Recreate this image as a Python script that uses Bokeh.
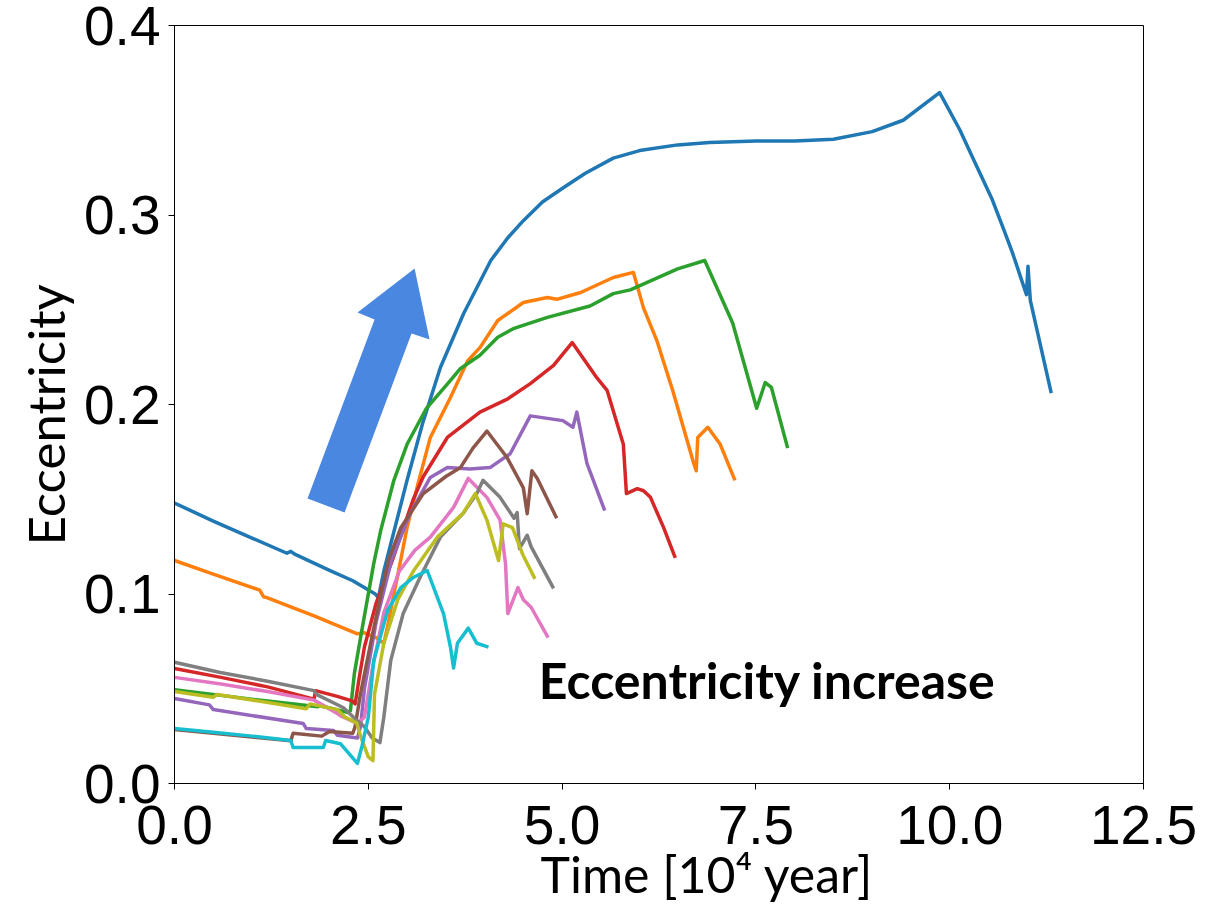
from bokeh.plotting import figure
from bokeh.models import Range1d, FixedTicker, Label, Title
from bokeh.embed import file_html
from bokeh.resources import INLINE

# ---------------- data ----------------
t_blue = [0, 0.5, 1.0, 1.45, 1.5, 1.55, 2.0, 2.3, 2.59, 2.63, 2.7, 2.85, 3.0, 3.2, 3.43, 3.73, 4.08, 4.3, 4.5,
          4.75, 5.02, 5.3, 5.66, 6.0, 6.49, 6.9, 7.5, 8.0, 8.5, 9.0, 9.4, 9.87, 10.13, 10.3, 10.55, 10.7, 10.81,
          10.99, 11.01, 11.04, 11.31]
e_blue = [0.148, 0.1385, 0.1295, 0.1215, 0.1225, 0.121, 0.1125, 0.107, 0.100, 0.098, 0.112, 0.136, 0.160,
          0.190, 0.2195, 0.248, 0.276, 0.288, 0.297, 0.307, 0.3145, 0.322, 0.330, 0.334, 0.337, 0.3383, 0.339,
          0.339, 0.340, 0.344, 0.350, 0.3646, 0.345, 0.330, 0.308, 0.292, 0.280, 0.258, 0.273, 0.255, 0.206]

t_orange = [0, 0.5, 1.1, 1.15, 1.2, 1.8, 2.36, 2.45, 2.6, 2.7, 2.76, 2.82, 2.88, 3.0, 3.14, 3.3, 3.56, 3.78,
            3.94, 4.17, 4.5, 4.81, 4.93, 5.24, 5.66, 5.92, 6.05, 6.22, 6.43, 6.69, 6.73, 6.75, 6.88, 7.04, 7.23]
e_orange = [0.1177, 0.1105, 0.102, 0.0985, 0.098, 0.0885, 0.079, 0.0795, 0.077, 0.074, 0.085, 0.098, 0.110,
            0.135, 0.158, 0.1826, 0.2037, 0.223, 0.230, 0.2443, 0.2538, 0.2565, 0.2555, 0.2591, 0.267, 0.2697,
            0.251, 0.234, 0.207, 0.170, 0.165, 0.1826, 0.188, 0.179, 0.160]

t_green = [0, 0.6, 1.2, 1.85, 1.88, 2.24, 2.27, 2.32, 2.4, 2.57, 2.66, 2.83, 3.0, 3.25, 3.56, 3.69, 3.94, 4.17,
           4.37, 4.81, 5.36, 5.66, 5.88, 6.49, 6.84, 7.2, 7.51, 7.62, 7.7, 7.91]
e_green = [0.0495, 0.0465, 0.0435, 0.0405, 0.041, 0.0375, 0.0385, 0.058, 0.077, 0.116, 0.1335, 0.160, 0.179,
           0.198, 0.2127, 0.219, 0.226, 0.2355, 0.240, 0.246, 0.252, 0.2585, 0.2605, 0.2716, 0.276, 0.243, 0.198,
           0.2116, 0.209, 0.177]

t_red = [0, 0.6, 1.2, 1.8, 1.82, 2.1, 2.3, 2.33, 2.38, 2.45, 2.6, 2.81, 3.08, 3.21, 3.52, 3.94, 4.3, 4.59, 4.89,
         5.13, 5.45, 5.58, 5.79, 5.83, 5.97, 6.05, 6.14, 6.31, 6.46]
e_red = [0.0607, 0.056, 0.051, 0.0445, 0.049, 0.046, 0.0435, 0.042, 0.055, 0.072, 0.095, 0.1177, 0.150, 0.162,
         0.1826, 0.196, 0.203, 0.211, 0.2206, 0.2327, 0.214, 0.2075, 0.179, 0.153, 0.1556, 0.1545, 0.151, 0.135,
         0.119]

t_purple = [0, 0.45, 0.5, 1.66, 1.7, 2.05, 2.1, 2.36, 2.4, 2.45, 2.6, 2.8, 3.04, 3.3, 3.52, 3.81, 4.07, 4.33,
            4.59, 5.01, 5.14, 5.19, 5.32, 5.55]
e_purple = [0.0449, 0.0415, 0.039, 0.0317, 0.029, 0.028, 0.0255, 0.024, 0.03, 0.05, 0.085, 0.118, 0.1425,
            0.1615, 0.1667, 0.166, 0.1667, 0.174, 0.194, 0.1915, 0.188, 0.196, 0.169, 0.144]

t_brown = [0, 0.5, 1.0, 1.5, 1.53, 1.9, 2.0, 2.3, 2.33, 2.4, 2.57, 2.76, 2.92, 3.21, 3.5, 3.69, 3.85, 4.03, 4.29,
           4.5, 4.55, 4.61, 4.68, 4.93]
e_brown = [0.0285, 0.0265, 0.0245, 0.0225, 0.0265, 0.025, 0.0275, 0.0265, 0.030, 0.0475, 0.082, 0.1177, 0.135,
           0.153, 0.162, 0.1668, 0.177, 0.186, 0.172, 0.156, 0.1424, 0.165, 0.161, 0.140]

t_pink = [0, 0.6, 1.2, 1.8, 2.1, 2.15, 2.36, 2.45, 2.55, 2.7, 2.9, 3.1, 3.3, 3.6, 3.79, 4.03, 4.2, 4.27, 4.3,
          4.43, 4.5, 4.6, 4.82]
e_pink = [0.056, 0.0525, 0.0485, 0.044, 0.037, 0.0355, 0.0317, 0.035, 0.060, 0.090, 0.112, 0.123, 0.130,
          0.1457, 0.161, 0.151, 0.139, 0.116, 0.0897, 0.1034, 0.097, 0.093, 0.077]

t_gray = [0, 0.59, 1.2, 1.8, 1.83, 2.18, 2.36, 2.45, 2.55, 2.65, 2.7, 2.79, 2.95, 3.17, 3.43, 3.72, 3.9, 3.98,
          4.2, 4.38, 4.42, 4.45, 4.55, 4.6, 4.89]
e_gray = [0.064, 0.0586, 0.054, 0.049, 0.047, 0.040, 0.033, 0.030, 0.024, 0.0216, 0.035, 0.065, 0.0897, 0.109,
          0.130, 0.1424, 0.153, 0.160, 0.151, 0.140, 0.143, 0.124, 0.131, 0.125, 0.103]

t_olive = [0, 0.5, 0.55, 1.7, 1.75, 2.1, 2.2, 2.35, 2.4, 2.5, 2.56, 2.58, 2.7, 2.88, 3.08, 3.39, 3.72, 3.88,
           4.03, 4.18, 4.24, 4.36, 4.49, 4.65]
e_olive = [0.0485, 0.0455, 0.047, 0.0395, 0.042, 0.039, 0.035, 0.032, 0.025, 0.014, 0.012, 0.047, 0.074, 0.097,
           0.112, 0.130, 0.1424, 0.153, 0.139, 0.1177, 0.137, 0.135, 0.121, 0.108]

t_cyan = [0, 0.5, 1.0, 1.5, 1.53, 1.92, 1.95, 2.14, 2.36, 2.42, 2.5, 2.57, 2.75, 2.92, 3.08, 3.26, 3.47, 3.56,
          3.6, 3.65, 3.79, 3.9, 4.05]
e_cyan = [0.029, 0.027, 0.025, 0.0227, 0.019, 0.019, 0.0227, 0.021, 0.0106, 0.02, 0.035, 0.065, 0.0913, 0.1034,
          0.1087, 0.1124, 0.0897, 0.072, 0.061, 0.074, 0.082, 0.074, 0.072]

series = [
    (t_blue, e_blue, "#1f77b4"),
    (t_orange, e_orange, "#ff7f0e"),
    (t_green, e_green, "#2ca02c"),
    (t_red, e_red, "#d62728"),
    (t_purple, e_purple, "#9467bd"),
    (t_brown, e_brown, "#8c564b"),
    (t_pink, e_pink, "#e377c2"),
    (t_gray, e_gray, "#7f7f7f"),
    (t_olive, e_olive, "#bcbd22"),
    (t_cyan, e_cyan, "#17becf"),
]

x_ticks = [0.0, 2.5, 5.0, 7.5, 10.0, 12.5]
x_tick_labels = ["0.0", "2.5", "5.0", "7.5", "10.0", "12.5"]
y_ticks = [0.0, 0.1, 0.2, 0.3, 0.4]
y_tick_labels = ["0.0", "0.1", "0.2", "0.3", "0.4"]

x_title = "Time [10\u2074 year]"
y_title = "Eccentricity"

# blue "increase" arrow outline (data coordinates)
arrow_t = [3.097, 3.290, 3.058, 2.194, 1.716, 2.581, 2.361]
arrow_e = [0.2718, 0.2343, 0.2375, 0.1430, 0.1504, 0.2448, 0.2485]

note_text = "Eccentricity increase"
note_t, note_e = 4.70, 0.0545

# ---------------- figure ----------------
p = figure(width=1217, height=906, output_backend="svg", toolbar_location=None,
           x_range=Range1d(0, 12.5), y_range=Range1d(0, 0.4),
           min_border_left=174, min_border_right=74, min_border_top=25, min_border_bottom=123)
p.background_fill_color = "white"
p.border_fill_color = "white"
p.outline_line_color = "black"
p.outline_line_width = 1
p.grid.visible = False

for t, e, c in series:
    p.line(t, e, line_color=c, line_width=3.5, line_join="round")

p.patch(arrow_t, arrow_e, fill_color="#4a87e0", line_color=None)

p.add_layout(Label(x=note_t, y=note_e, text=note_text, text_font="Lato", text_font_style="bold",
                   text_font_size="50px", text_baseline="middle", text_color="black"))

p.xaxis.ticker = FixedTicker(ticks=x_ticks)
p.yaxis.ticker = FixedTicker(ticks=y_ticks)
p.xaxis.major_label_overrides = dict(zip(x_ticks, x_tick_labels))
p.yaxis.major_label_overrides = dict(zip(y_ticks, y_tick_labels))

for ax in (p.xaxis, p.yaxis):
    ax.major_label_text_font = "Liberation Sans"
    ax.major_label_text_font_size = "55px"
    ax.major_label_text_color = "black"
    ax.axis_line_color = "black"
    ax.major_tick_line_color = "black"
    ax.major_tick_out = 6
    ax.major_tick_in = 0
    ax.minor_tick_line_color = None
p.xaxis.major_label_standoff = 16
p.yaxis.major_label_standoff = 8

# axis titles (both sit off-centre in the reference), placed as side titles
p.add_layout(Title(text=y_title, align="left", offset=238, vertical_align="bottom", standoff=12,
                   text_font="Lato", text_font_style="normal", text_font_size="51px",
                   text_color="black"), "left")
p.add_layout(Title(text=x_title, align="left", offset=366, vertical_align="top", standoff=-6,
                   text_font="Lato", text_font_style="normal", text_font_size="50px",
                   text_color="black"), "below")

open("out.html", "w").write(file_html(p, INLINE))
